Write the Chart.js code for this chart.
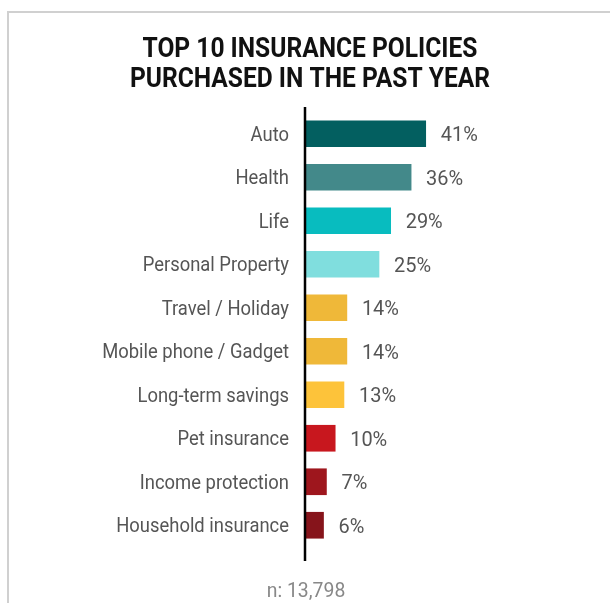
<!DOCTYPE html>
<html>
<head>
<meta charset="utf-8">
<title>Top 10 insurance policies</title>
<script src="https://cdn.jsdelivr.net/npm/chart.js@4.4.1/dist/chart.umd.min.js"></script>
<style>
  html, body { margin: 0; padding: 0; background: #fff; overflow: hidden; }
  #wrap { position: relative; width: 610px; height: 603px; }
  #frame {
    position: absolute; left: 7px; top: 11px; width: 700px; height: 700px;
    border-top: 2px solid #d0d0d0; border-left: 2px solid #d0d0d0;
  }
  canvas { position: absolute; left: 0; top: 0; }
</style>
</head>
<body>
<div id="wrap">
  <div id="frame"></div>
  <canvas id="chart" width="610" height="603"></canvas>
</div>
<script>
const categories = [
  'Auto', 'Health', 'Life', 'Personal Property', 'Travel / Holiday',
  'Mobile phone / Gadget', 'Long-term savings', 'Pet insurance',
  'Income protection', 'Household insurance'
];
const shares = [41, 36, 29, 25, 14, 14, 13, 10, 7, 6];
const barColors = [
  '#035f60', '#43898a', '#08bcbf', '#80dede', '#efb839',
  '#efb839', '#fdc33a', '#c8171e', '#9e161d', '#86141b'
];
const titleLines = ['TOP 10 INSURANCE POLICIES', 'PURCHASED IN THE PAST YEAR'];
const sampleNote = 'n: 13,798';

const FONT = 'Roboto, sans-serif';

// draws text squeezed horizontally around its anchor (a condensed look out of Roboto);
// y is the middle of the cap height
function condensed(ctx, text, x, y, size, opts = {}) {
  ctx.save();
  ctx.font = (opts.bold ? 'bold ' : '') + size + 'px ' + FONT;
  ctx.fillStyle = opts.color || '#555';
  ctx.textAlign = opts.align || 'left';
  ctx.textBaseline = 'alphabetic';
  ctx.translate(x, y + size * 0.355);
  ctx.scale(opts.squeeze || 0.92, 1);
  ctx.fillText(text, 0, 0);
  ctx.restore();
}

// vertical baseline at the start of the bars, running a little past the bands
const baseline = {
  id: 'baseline',
  afterDatasetsDraw(chart) {
    const {ctx, chartArea} = chart;
    ctx.save();
    ctx.strokeStyle = '#000';
    ctx.lineWidth = 2.5;
    ctx.beginPath();
    ctx.moveTo(chartArea.left - 1, chartArea.top - 5);
    ctx.lineTo(chartArea.left - 1, chartArea.bottom + 14);
    ctx.stroke();
    ctx.restore();
  }
};

// title, category names, bar values and the sample size note
const texts = {
  id: 'texts',
  afterDraw(chart) {
    const {ctx, chartArea} = chart;
    const yScale = chart.scales.y;
    const meta = chart.getDatasetMeta(0);
    const mid = chartArea.left + 4;

    titleLines.forEach((line, i) => {
      condensed(ctx, line, mid, 47.5 + i * 30, 27, {bold: true, color: '#111', align: 'center', squeeze: 0.91});
    });
    categories.forEach((name, i) => {
      condensed(ctx, name, chartArea.left - 17, yScale.getPixelForValue(i), 20, {align: 'right', squeeze: 0.92});
    });
    meta.data.forEach((bar, i) => {
      condensed(ctx, shares[i] + '%', bar.x + 15, bar.y, 21, {squeeze: 0.95});
    });
    condensed(ctx, sampleNote, chartArea.left, chartArea.bottom + 43, 20, {color: '#888', align: 'center', squeeze: 0.97});
  }
};

new Chart(document.getElementById('chart'), {
  type: 'bar',
  data: {
    labels: categories,
    datasets: [{
      data: shares,
      backgroundColor: barColors,
      borderWidth: 0,
      barThickness: 26
    }]
  },
  options: {
    indexAxis: 'y',
    responsive: false,
    animation: false,
    devicePixelRatio: 1,
    layout: {padding: {left: 306, right: 12, top: 112, bottom: 56}},
    plugins: {
      legend: {display: false},
      tooltip: {enabled: false},
      title: {display: false}
    },
    scales: {
      x: {display: false, min: 0, max: 100},
      y: {display: false}
    }
  },
  plugins: [baseline, texts]
});
</script>
</body>
</html>
